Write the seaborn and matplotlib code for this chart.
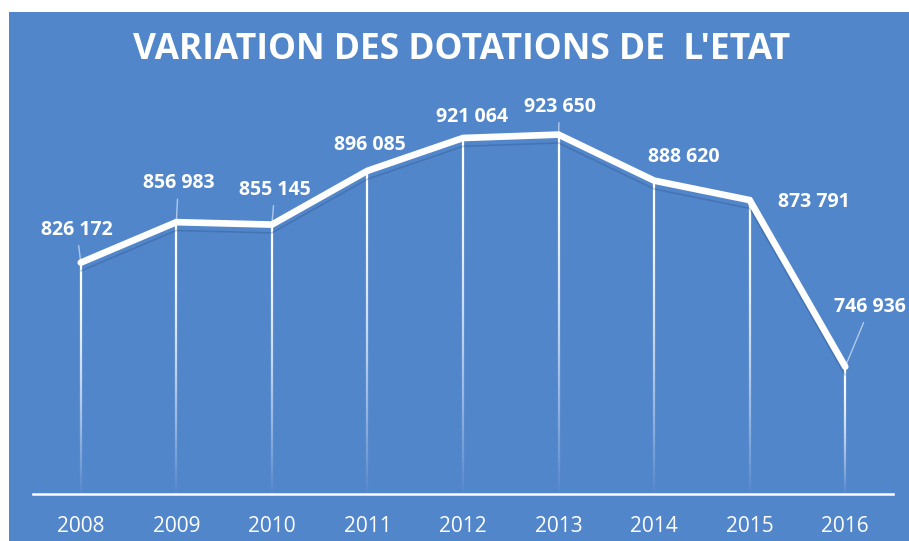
import matplotlib
matplotlib.use("Agg")
import matplotlib.pyplot as plt
import matplotlib.patheffects as pe
from matplotlib.collections import LineCollection
from matplotlib.patches import Rectangle
import seaborn as sns
import numpy as np
import pandas as pd

years = ["2008", "2009", "2010", "2011", "2012", "2013", "2014", "2015", "2016"]
values = [826172, 856983, 855145, 896085, 921064, 923650, 888620, 873791, 746936]
labels = ["826 172", "856 983", "855 145", "896 085", "921 064",
          "923 650", "888 620", "873 791", "746 936"]

# label offsets in pixels and whether a leader line is drawn
label_offsets = [(-4, 33), (2, 39), (3, 35), (2, 26), (9, 21),
                 (1, 28), (30, 24), (64, -2), (25, 60)]
leaders = [True, True, True, False, False, True, False, False, True]

BLUE = "#5286CB"
YMIN, YMAX = 650000, 950000

sns.set_theme(style="white")
plt.rcParams["font.family"] = ["Open Sans", "DejaVu Sans"]

fig = plt.figure(figsize=(9.09, 5.41), dpi=100)
fig.patch.set_facecolor("white")
fig.patches.append(Rectangle((9 / 909, 0), 1, 1 - 12 / 541, transform=fig.transFigure,
                             facecolor=BLUE, edgecolor="none", zorder=-10))

ax = fig.add_axes([33 / 909, 1 - 494 / 541, 860 / 909, 394 / 541])
ax.set_facecolor("none")

df = pd.DataFrame({"x": np.arange(len(years)), "y": values})

# fading drop lines
segs, cols = [], []
for i, v in enumerate(values):
    ys = np.linspace(v, YMIN, 80)
    for k in range(len(ys) - 1):
        t = k / (len(ys) - 1)
        segs.append([(i, ys[k]), (i, ys[k + 1])])
        cols.append((1, 1, 1, max(0.0, 1 - t ** 1.6)))
ax.add_collection(LineCollection(segs, colors=cols, linewidths=1.6, zorder=2))

sns.lineplot(data=df, x="x", y="y", ax=ax, color="white", linewidth=4.8,
             solid_joinstyle="miter", zorder=4,
             path_effects=[pe.SimpleLineShadow(offset=(0, -6), shadow_color="#1f3f70",
                                               alpha=0.25, linewidth=1.2),
                           pe.Normal()])

for i, (v, lab) in enumerate(zip(values, labels)):
    dx, dy = label_offsets[i]
    kw = {}
    if leaders[i]:
        kw["arrowprops"] = dict(arrowstyle="-", color=(1, 1, 1, 0.55), lw=1,
                                shrinkA=2, shrinkB=0)
    ax.annotate(lab, xy=(i, v), xytext=(dx, dy), textcoords="offset pixels",
                ha="center", va="center", color="white", fontsize=14,
                fontweight="bold", annotation_clip=False, zorder=5, **kw)

ax.set_xlim(-0.5, len(years) - 0.5)
ax.set_ylim(YMIN, YMAX)
ax.set_xticks(range(len(years)))
ax.set_xticklabels(years)
ax.set_yticks([])
ax.set_xlabel("")
ax.set_ylabel("")
for s in ["top", "left", "right"]:
    ax.spines[s].set_visible(False)
ax.spines["bottom"].set_color("white")
ax.spines["bottom"].set_linewidth(1.8)
ax.tick_params(axis="x", length=0, pad=16, labelcolor="white", labelsize=15)

fig.text(462 / 909, 1 - 50 / 541, "VARIATION DES DOTATIONS DE  L'ETAT",
         ha="center", va="center", color="white", fontsize=25.5, fontweight="bold")

fig.savefig("out.png", dpi=100, facecolor=fig.get_facecolor())
